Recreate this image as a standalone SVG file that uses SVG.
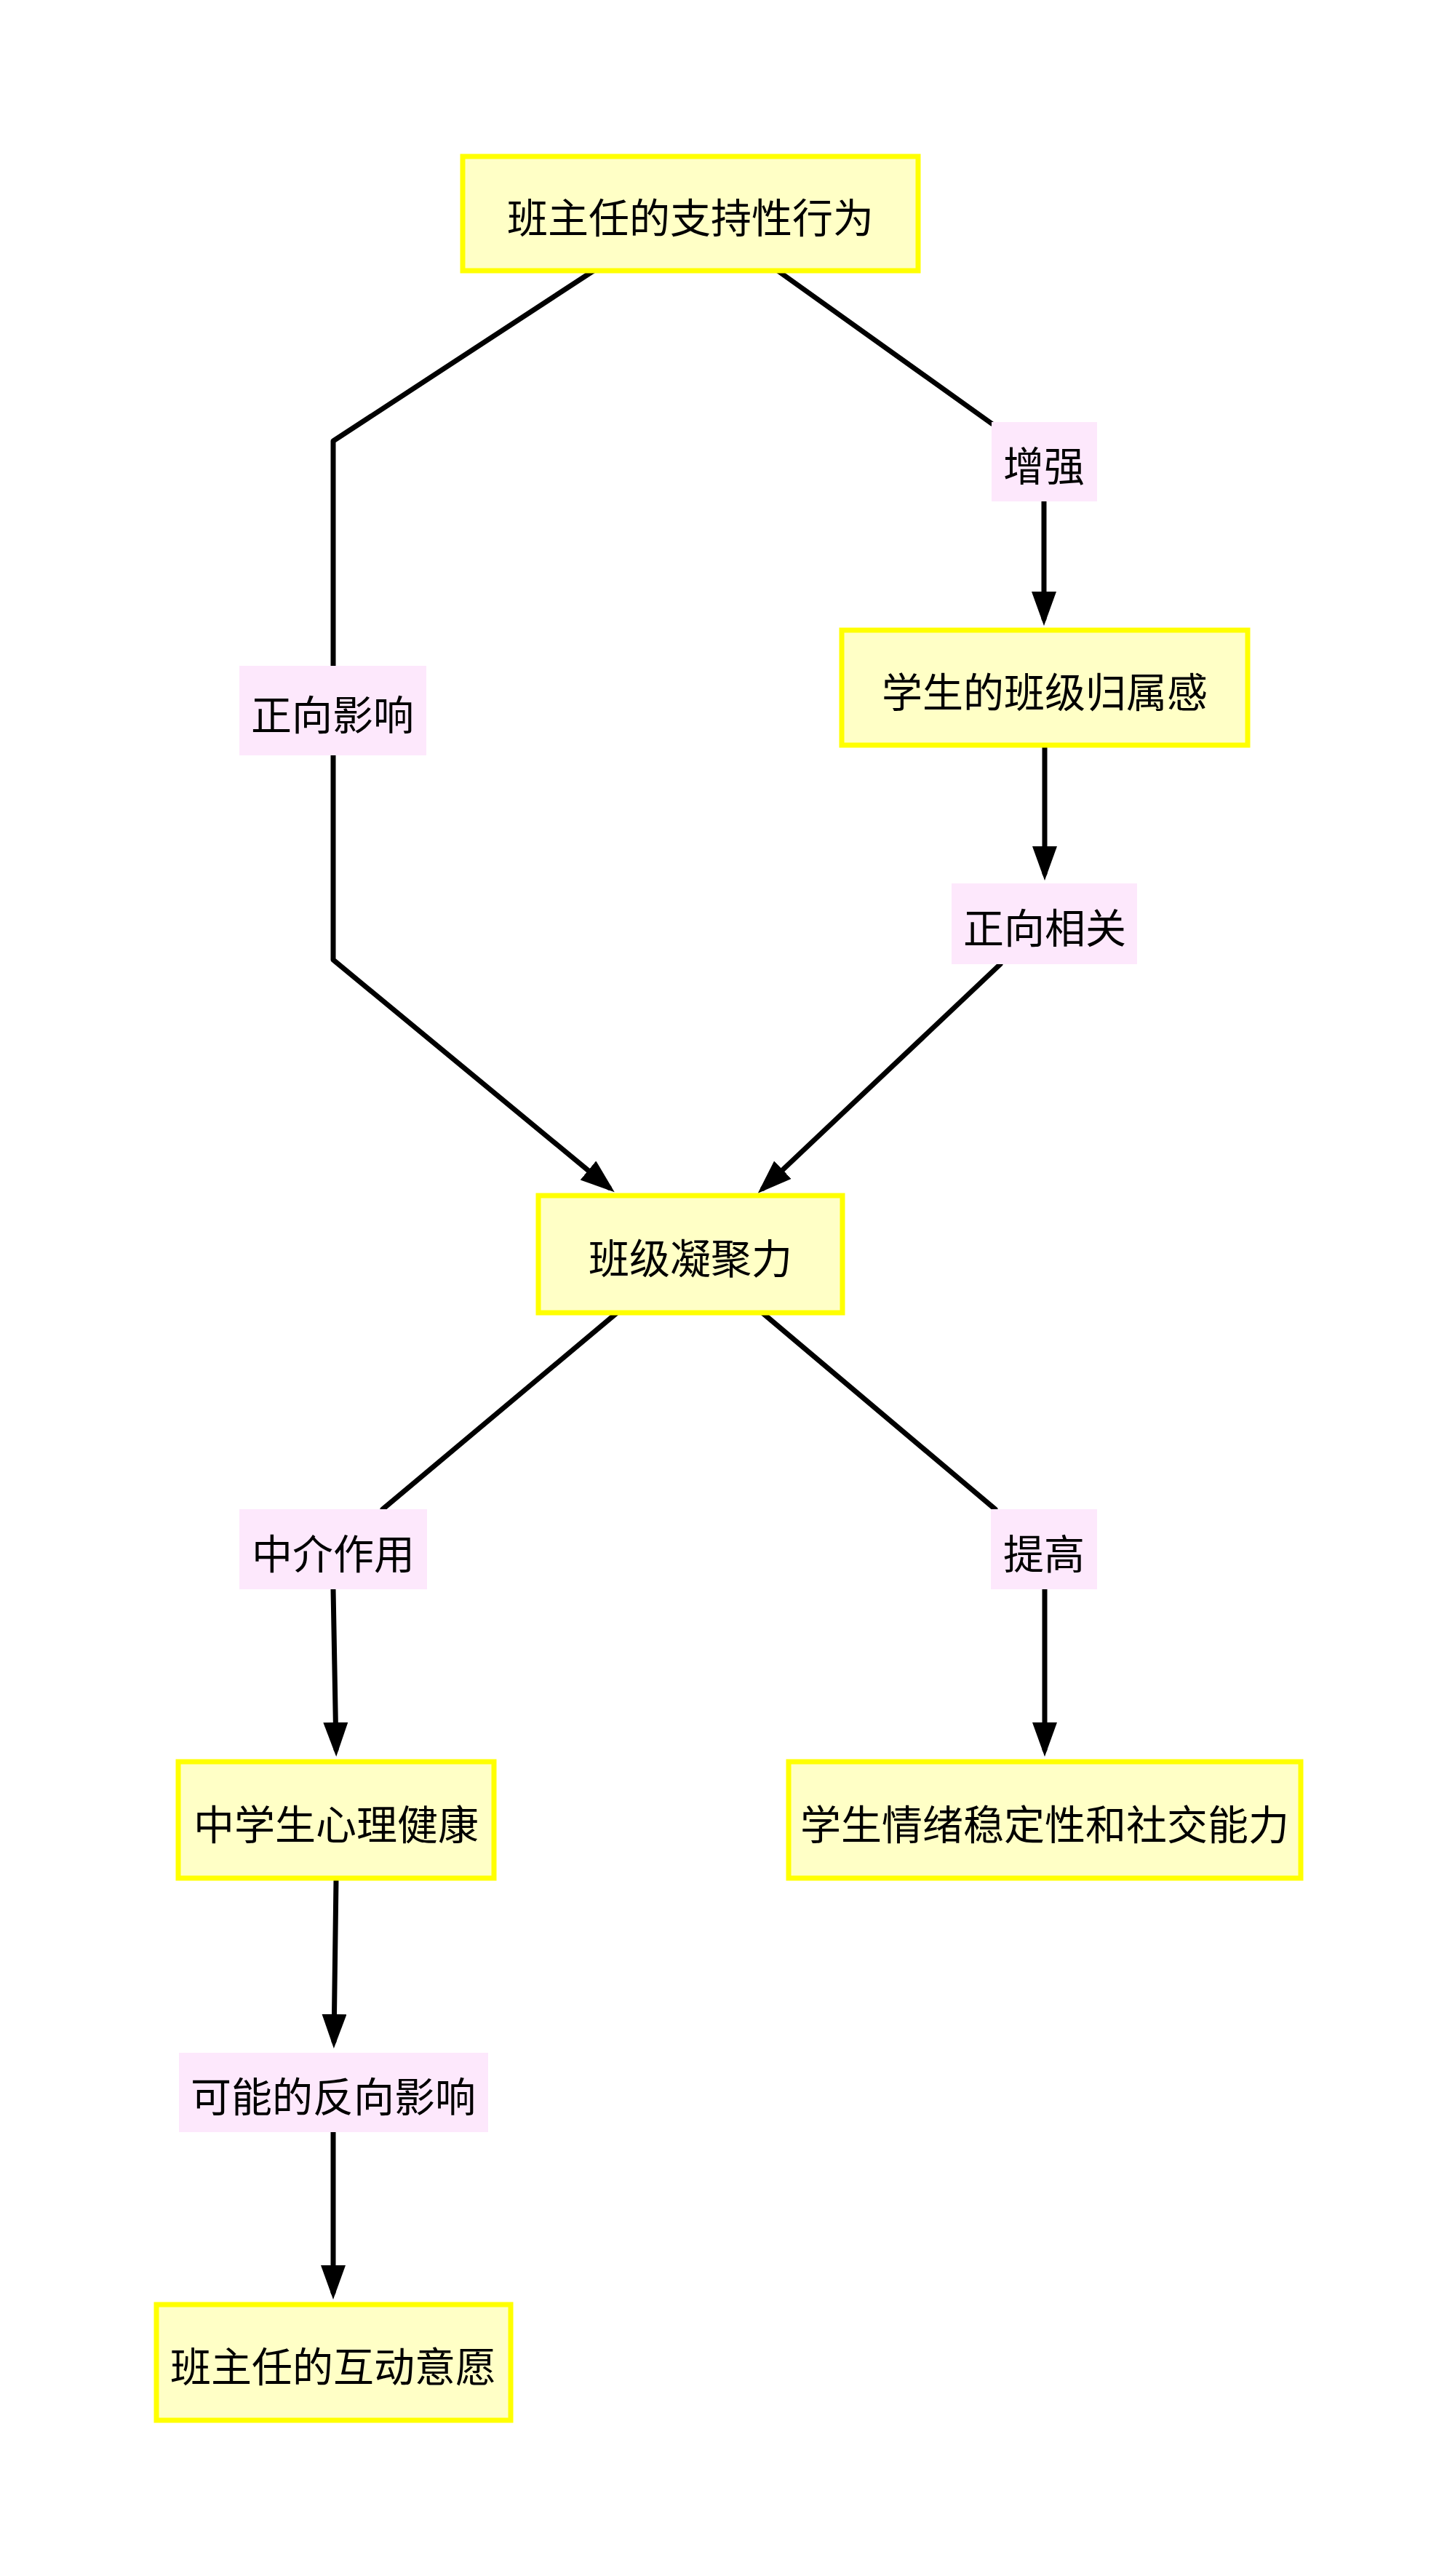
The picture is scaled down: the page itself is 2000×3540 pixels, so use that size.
<svg xmlns="http://www.w3.org/2000/svg" width="2000" height="3540" viewBox="0 0 2000 3540">
<style>
.node rect{fill:#ffffc6;stroke:#ffff00;stroke-width:7}
.lbl rect{fill:#fde8fc;stroke:none}
text{font-family:"Noto Sans CJK SC","Noto Sans CJK TC",sans-serif;font-size:56px;fill:#000;text-anchor:middle;dominant-baseline:central}
.edge{fill:none;stroke:#000;stroke-width:7;stroke-linecap:round;stroke-linejoin:round}
</style>
<defs>
<marker id="arr" markerUnits="userSpaceOnUse" markerWidth="50" markerHeight="36" refX="37" refY="17" orient="auto">
<path d="M0,0 L47,17 L0,34 Z" fill="#000"/>
</marker>
</defs>
<rect width="2000" height="3540" fill="#fff"/>
<g id="connectors">
<path class="edge" d="M816,372 L458,606 L458,915"/>
<path class="edge" d="M458,1038 L458,1319 L837,1632" marker-end="url(#arr)"/>
<path class="edge" d="M1069,372 L1363,582"/>
<path class="edge" d="M1435,689 L1435,850" marker-end="url(#arr)"/>
<path class="edge" d="M1436,1025 L1436,1200" marker-end="url(#arr)"/>
<path class="edge" d="M1375,1325 L1049,1633" marker-end="url(#arr)"/>
<path class="edge" d="M847,1805 L526,2074"/>
<path class="edge" d="M458,2184 L462,2404" marker-end="url(#arr)"/>
<path class="edge" d="M1049,1805 L1368,2074"/>
<path class="edge" d="M1436,2184 L1436,2404" marker-end="url(#arr)"/>
<path class="edge" d="M462,2583 L459,2805" marker-end="url(#arr)"/>
<path class="edge" d="M458,2930 L458,3150" marker-end="url(#arr)"/>
</g>
<g id="n1" class="node"><rect x="636" y="215" width="626" height="157"/><text x="949" y="295">班主任的支持性行为</text></g>
<g id="n2" class="node"><rect x="1157" y="866" width="558" height="158"/><text x="1436" y="947">学生的班级归属感</text></g>
<g id="n3" class="node"><rect x="740" y="1643" width="418" height="161"/><text x="949" y="1725">班级凝聚力</text></g>
<g id="n4" class="node"><rect x="245" y="2421" width="434" height="160"/><text x="462" y="2503">中学生心理健康</text></g>
<g id="n5" class="node"><rect x="1084" y="2421" width="704" height="160"/><text x="1436" y="2503">学生情绪稳定性和社交能力</text></g>
<g id="n6" class="node"><rect x="215" y="3167" width="487" height="159"/><text x="458" y="3248">班主任的互动意愿</text></g>
<g id="l1" class="lbl"><rect x="1363" y="580" width="145" height="109"/><text x="1435" y="636">增强</text></g>
<g id="l2" class="lbl"><rect x="329" y="915" width="257" height="123"/><text x="457" y="978">正向影响</text></g>
<g id="l3" class="lbl"><rect x="1308" y="1214" width="255" height="111"/><text x="1436" y="1271">正向相关</text></g>
<g id="l4" class="lbl"><rect x="329" y="2074" width="258" height="110"/><text x="458" y="2131">中介作用</text></g>
<g id="l5" class="lbl"><rect x="1362" y="2074" width="146" height="110"/><text x="1435" y="2131">提高</text></g>
<g id="l6" class="lbl"><rect x="246" y="2821" width="425" height="109"/><text x="458" y="2877">可能的反向影响</text></g>
</svg>
